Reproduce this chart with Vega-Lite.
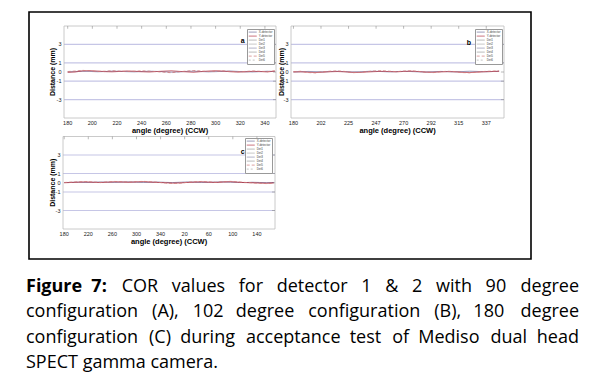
{
  "$schema": "https://vega.github.io/schema/vega-lite/v6.json",
  "padding": {"left": 26, "top": 11, "right": 0, "bottom": 0},
  "background": "white",
  "bounds": "flush",
  "spacing": 9,
  "config": {"view": {"stroke": null}},
  "datasets": {
    "lines": [
      {"p":"a","ang":180,"X-detector":0.02,"Y-detector":-0.04,"Det5":0.05},
      {"p":"a","ang":186,"X-detector":0.05,"Y-detector":0.00,"Det5":0.10},
      {"p":"a","ang":192,"X-detector":0.08,"Y-detector":0.12,"Det5":0.18},
      {"p":"a","ang":198,"X-detector":0.06,"Y-detector":0.15,"Det5":0.12},
      {"p":"a","ang":204,"X-detector":0.03,"Y-detector":0.10,"Det5":0.06},
      {"p":"a","ang":210,"X-detector":0.05,"Y-detector":0.04,"Det5":0.09},
      {"p":"a","ang":216,"X-detector":0.09,"Y-detector":0.02,"Det5":0.14},
      {"p":"a","ang":222,"X-detector":0.07,"Y-detector":0.06,"Det5":0.10},
      {"p":"a","ang":228,"X-detector":0.04,"Y-detector":0.11,"Det5":0.05},
      {"p":"a","ang":234,"X-detector":0.02,"Y-detector":0.08,"Det5":0.08},
      {"p":"a","ang":240,"X-detector":0.05,"Y-detector":0.03,"Det5":0.13},
      {"p":"a","ang":246,"X-detector":0.08,"Y-detector":0.00,"Det5":0.09},
      {"p":"a","ang":252,"X-detector":0.06,"Y-detector":0.05,"Det5":0.04},
      {"p":"a","ang":258,"X-detector":0.03,"Y-detector":0.09,"Det5":-0.02},
      {"p":"a","ang":264,"X-detector":-0.02,"Y-detector":0.13,"Det5":-0.08},
      {"p":"a","ang":270,"X-detector":0.01,"Y-detector":0.07,"Det5":0.02},
      {"p":"a","ang":276,"X-detector":0.06,"Y-detector":0.02,"Det5":0.10},
      {"p":"a","ang":282,"X-detector":0.09,"Y-detector":-0.03,"Det5":0.16},
      {"p":"a","ang":288,"X-detector":0.05,"Y-detector":0.04,"Det5":0.11},
      {"p":"a","ang":294,"X-detector":0.02,"Y-detector":0.10,"Det5":0.05},
      {"p":"a","ang":300,"X-detector":0.04,"Y-detector":0.14,"Det5":0.08},
      {"p":"a","ang":306,"X-detector":0.07,"Y-detector":0.09,"Det5":0.12},
      {"p":"a","ang":312,"X-detector":0.10,"Y-detector":0.03,"Det5":0.07},
      {"p":"a","ang":318,"X-detector":0.06,"Y-detector":-0.01,"Det5":0.03},
      {"p":"a","ang":324,"X-detector":0.03,"Y-detector":0.02,"Det5":0.06},
      {"p":"a","ang":330,"X-detector":0.01,"Y-detector":0.07,"Det5":0.11},
      {"p":"a","ang":336,"X-detector":0.04,"Y-detector":0.05,"Det5":0.08},
      {"p":"a","ang":342,"X-detector":0.08,"Y-detector":0.01,"Det5":0.04},
      {"p":"a","ang":348,"X-detector":0.05,"Y-detector":0.10,"Det5":0.12},
      {"p":"b","ang":180,"X-detector":0.01,"Y-detector":0.00,"Det5":0.04},
      {"p":"b","ang":186,"X-detector":0.03,"Y-detector":0.02,"Det5":0.08},
      {"p":"b","ang":192,"X-detector":0.06,"Y-detector":-0.03,"Det5":-0.06},
      {"p":"b","ang":198,"X-detector":0.04,"Y-detector":-0.06,"Det5":-0.10},
      {"p":"b","ang":204,"X-detector":0.02,"Y-detector":-0.02,"Det5":0.02},
      {"p":"b","ang":210,"X-detector":0.05,"Y-detector":0.03,"Det5":0.09},
      {"p":"b","ang":216,"X-detector":0.07,"Y-detector":0.05,"Det5":0.12},
      {"p":"b","ang":222,"X-detector":0.04,"Y-detector":0.02,"Det5":0.06},
      {"p":"b","ang":228,"X-detector":0.01,"Y-detector":-0.04,"Det5":-0.08},
      {"p":"b","ang":234,"X-detector":0.03,"Y-detector":-0.05,"Det5":-0.04},
      {"p":"b","ang":240,"X-detector":0.06,"Y-detector":0.00,"Det5":0.05},
      {"p":"b","ang":246,"X-detector":0.08,"Y-detector":0.04,"Det5":0.11},
      {"p":"b","ang":252,"X-detector":0.05,"Y-detector":0.07,"Det5":0.14},
      {"p":"b","ang":258,"X-detector":0.02,"Y-detector":0.05,"Det5":0.09},
      {"p":"b","ang":264,"X-detector":0.04,"Y-detector":0.02,"Det5":0.04},
      {"p":"b","ang":270,"X-detector":0.07,"Y-detector":0.06,"Det5":0.10},
      {"p":"b","ang":276,"X-detector":0.05,"Y-detector":0.09,"Det5":0.13},
      {"p":"b","ang":282,"X-detector":0.02,"Y-detector":0.05,"Det5":0.07},
      {"p":"b","ang":288,"X-detector":0.00,"Y-detector":-0.01,"Det5":-0.02},
      {"p":"b","ang":294,"X-detector":0.03,"Y-detector":-0.03,"Det5":-0.07},
      {"p":"b","ang":300,"X-detector":0.06,"Y-detector":0.01,"Det5":0.03},
      {"p":"b","ang":306,"X-detector":0.04,"Y-detector":0.04,"Det5":0.08},
      {"p":"b","ang":312,"X-detector":0.02,"Y-detector":0.02,"Det5":0.05},
      {"p":"b","ang":318,"X-detector":0.05,"Y-detector":-0.04,"Det5":-0.06},
      {"p":"b","ang":324,"X-detector":0.08,"Y-detector":-0.06,"Det5":-0.09},
      {"p":"b","ang":330,"X-detector":0.06,"Y-detector":-0.02,"Det5":0.00},
      {"p":"b","ang":336,"X-detector":0.03,"Y-detector":0.03,"Det5":0.06},
      {"p":"b","ang":342,"X-detector":0.05,"Y-detector":0.05,"Det5":0.10},
      {"p":"b","ang":348,"X-detector":0.07,"Y-detector":0.08,"Det5":0.12},
      {"p":"c","ang":180,"X-detector":0.02,"Y-detector":0.00,"Det5":0.03},
      {"p":"c","ang":192,"X-detector":0.04,"Y-detector":0.03,"Det5":0.07},
      {"p":"c","ang":204,"X-detector":0.06,"Y-detector":0.06,"Det5":0.10},
      {"p":"c","ang":216,"X-detector":0.03,"Y-detector":0.09,"Det5":0.13},
      {"p":"c","ang":228,"X-detector":0.05,"Y-detector":0.05,"Det5":0.08},
      {"p":"c","ang":240,"X-detector":0.08,"Y-detector":0.02,"Det5":0.04},
      {"p":"c","ang":252,"X-detector":0.06,"Y-detector":0.06,"Det5":0.09},
      {"p":"c","ang":264,"X-detector":0.04,"Y-detector":0.10,"Det5":0.14},
      {"p":"c","ang":276,"X-detector":0.07,"Y-detector":0.08,"Det5":0.11},
      {"p":"c","ang":288,"X-detector":0.09,"Y-detector":0.05,"Det5":0.07},
      {"p":"c","ang":300,"X-detector":0.06,"Y-detector":0.09,"Det5":0.12},
      {"p":"c","ang":312,"X-detector":0.03,"Y-detector":0.12,"Det5":0.15},
      {"p":"c","ang":324,"X-detector":0.05,"Y-detector":0.07,"Det5":0.10},
      {"p":"c","ang":336,"X-detector":0.07,"Y-detector":0.03,"Det5":0.05},
      {"p":"c","ang":348,"X-detector":0.04,"Y-detector":0.00,"Det5":-0.03},
      {"p":"c","ang":360,"X-detector":0.02,"Y-detector":-0.04,"Det5":-0.08},
      {"p":"c","ang":372,"X-detector":0.05,"Y-detector":-0.02,"Det5":-0.05},
      {"p":"c","ang":384,"X-detector":0.08,"Y-detector":0.03,"Det5":0.05},
      {"p":"c","ang":396,"X-detector":0.06,"Y-detector":0.07,"Det5":0.10},
      {"p":"c","ang":408,"X-detector":0.03,"Y-detector":0.10,"Det5":0.14},
      {"p":"c","ang":420,"X-detector":0.05,"Y-detector":0.06,"Det5":0.09},
      {"p":"c","ang":432,"X-detector":0.07,"Y-detector":0.03,"Det5":0.05},
      {"p":"c","ang":444,"X-detector":0.09,"Y-detector":0.08,"Det5":0.11},
      {"p":"c","ang":456,"X-detector":0.06,"Y-detector":0.11,"Det5":0.15},
      {"p":"c","ang":468,"X-detector":0.04,"Y-detector":0.06,"Det5":0.09},
      {"p":"c","ang":480,"X-detector":0.02,"Y-detector":0.02,"Det5":0.04},
      {"p":"c","ang":492,"X-detector":0.05,"Y-detector":0.00,"Det5":-0.01},
      {"p":"c","ang":504,"X-detector":0.03,"Y-detector":-0.03,"Det5":-0.06},
      {"p":"c","ang":516,"X-detector":0.01,"Y-detector":-0.05,"Det5":-0.09},
      {"p":"c","ang":528,"X-detector":0.03,"Y-detector":-0.02,"Det5":-0.05}
    ],
    "grid": [{"g": -3}, {"g": -1}, {"g": 1}, {"g": 3}],
    "yticks": [{"t": -3, "lab": "-3"}, {"t": -1, "lab": "-1"}, {"t": 0, "lab": "0"}, {"t": 1, "lab": "1"}, {"t": 3, "lab": "3"}],
    "xt_a": [{"t": 180, "lab": "180"}, {"t": 200, "lab": "200"}, {"t": 220, "lab": "220"}, {"t": 240, "lab": "240"}, {"t": 260, "lab": "260"}, {"t": 280, "lab": "280"}, {"t": 300, "lab": "300"}, {"t": 320, "lab": "320"}, {"t": 340, "lab": "340"}],
    "xt_b": [{"t": 180, "lab": "180"}, {"t": 202.5, "lab": "202"}, {"t": 225, "lab": "225"}, {"t": 247.5, "lab": "247"}, {"t": 270, "lab": "270"}, {"t": 292.5, "lab": "292"}, {"t": 315, "lab": "315"}, {"t": 337.5, "lab": "337"}],
    "xt_c": [{"t": 180, "lab": "180"}, {"t": 220, "lab": "220"}, {"t": 260, "lab": "260"}, {"t": 300, "lab": "300"}, {"t": 340, "lab": "340"}, {"t": 380, "lab": "20"}, {"t": 420, "lab": "60"}, {"t": 460, "lab": "100"}, {"t": 500, "lab": "140"}],
    "caption": [
      {"line": 1, "seg": "B", "text": "Figure \u20057:"},
      {"line": 1, "seg": "L2", "text": "COR \u2002values \u2002for \u2002detector \u20021 \u2002& \u20022 \u2002with \u200290"},
      {"line": 1, "seg": "R", "text": "degree"},
      {"line": 2, "seg": "L", "text": "configuration \u2005\u2006\u200a(A), \u2005\u2006\u200a102 \u2005\u2006degree \u2005\u2006\u200aconfiguration \u2005\u2006\u200a(B), \u2005\u2006180"},
      {"line": 2, "seg": "R", "text": "degree"},
      {"line": 3, "seg": "L", "text": "configuration \u2005\u200a(C) \u2005during \u2005\u200aacceptance \u2005test \u2005\u200aof \u2005Mediso \u2005\u200adual"},
      {"line": 3, "seg": "R", "text": "head"},
      {"line": 4, "seg": "L", "text": "SPECT gamma camera."}
    ]
  },
  "vconcat": [
    {
      "width": 502,
      "height": 247,
      "view": {"stroke": "#000000", "strokeWidth": 1.6},
      "resolve": {
        "scale": {"x": "independent", "y": "independent", "color": "independent", "strokeDash": "independent"},
        "legend": {"color": "independent", "strokeDash": "independent"}
      },
      "layer": [
        {
          "layer": [
            {
              "data": {"name": "grid"},
              "mark": {"type": "rule", "color": "#c6c6e6", "strokeWidth": 1.2},
              "encoding": {
                "x": {"datum": 177, "type": "quantitative", "scale": {"domain": [177, 349], "range": [35, 247], "nice": false, "zero": false}, "axis": null},
                "x2": {"datum": 349},
                "y": {"field": "g", "type": "quantitative", "scale": {"domain": [-5, 5], "range": [106, 14], "nice": false, "zero": false}, "axis": null}
              }
            },
            {
              "data": {"values": [{"f": 1}]},
              "mark": {"type": "rect", "fill": null, "stroke": "#bdbdbd", "strokeWidth": 0.8},
              "encoding": {
                "x": {"datum": 177, "type": "quantitative", "scale": {"domain": [177, 349], "range": [35, 247], "nice": false, "zero": false}, "axis": null},
                "x2": {"datum": 349},
                "y": {"datum": -5, "type": "quantitative", "scale": {"domain": [-5, 5], "range": [106, 14], "nice": false, "zero": false}, "axis": null},
                "y2": {"datum": 5}
              }
            },
            {
              "data": {"name": "xt_a"},
              "mark": {"type": "rule", "color": "#8c8c8c", "strokeWidth": 0.6},
              "encoding": {
                "x": {"field": "t", "type": "quantitative", "scale": {"domain": [177, 349], "range": [35, 247], "nice": false, "zero": false}, "axis": null},
                "y": {"datum": 5, "type": "quantitative", "scale": {"domain": [-5, 5], "range": [106, 14], "nice": false, "zero": false}, "axis": null},
                "y2": {"datum": 4.7}
              }
            },
            {
              "data": {"name": "yticks"},
              "mark": {"type": "rule", "color": "#8c8c8c", "strokeWidth": 0.6},
              "encoding": {
                "x": {"datum": 349, "type": "quantitative", "scale": {"domain": [177, 349], "range": [35, 247], "nice": false, "zero": false}, "axis": null},
                "x2": {"datum": 346.6},
                "y": {"field": "t", "type": "quantitative", "scale": {"domain": [-5, 5], "range": [106, 14], "nice": false, "zero": false}, "axis": null}
              }
            },
            {
              "data": {"name": "lines"},
              "transform": [{"filter": "datum.p === 'a'"}, {"fold": ["X-detector", "Y-detector", "Det5"], "as": ["s", "d"]}],
              "mark": {"type": "line", "strokeWidth": 0.8},
              "encoding": {
                "x": {"field": "ang", "type": "quantitative", "scale": {"domain": [177, 349], "range": [35, 247], "nice": false, "zero": false}, "axis": null},
                "y": {"field": "d", "type": "quantitative", "scale": {"domain": [-5, 5], "range": [106, 14], "nice": false, "zero": false}, "axis": null},
                "color": {"field": "s", "type": "nominal",
                  "scale": {"domain": ["X-detector", "Y-detector", "Det1", "Det2", "Det3", "Det4", "Det5", "Det6"], "range": ["#6a6a9a", "#b02a3a", "#999999", "#aaaaaa", "#8a8aaa", "#999999", "#d07878", "#aaaaaa"]},
                  "legend": {"orient": "none", "legendX": 218, "legendY": 17, "title": null, "symbolType": "stroke", "symbolSize": 64, "symbolStrokeWidth": 0.7, "clipHeight": 3.8, "rowPadding": 0, "padding": 1.2, "labelFont": "Liberation Sans", "labelFontSize": 3, "labelColor": "#444444", "labelOffset": 1.5, "strokeColor": "#999999", "fillColor": "#ffffff"}},
                "strokeDash": {"field": "s", "type": "nominal",
                  "scale": {"domain": ["X-detector", "Y-detector", "Det1", "Det2", "Det3", "Det4", "Det5", "Det6"], "range": [[1, 0], [1, 0], [1, 0], [1, 0], [1, 0], [1, 0], [3, 2], [2, 2]]},
                  "legend": {"orient": "none", "legendX": 218, "legendY": 17, "title": null, "symbolType": "stroke", "symbolSize": 64, "symbolStrokeWidth": 0.7, "clipHeight": 3.8, "rowPadding": 0, "padding": 1.2, "labelFont": "Liberation Sans", "labelFontSize": 3, "labelColor": "#444444", "labelOffset": 1.5, "strokeColor": "#999999", "fillColor": "#ffffff"}}
              }
            },
            {
              "data": {"values": [{"lab": "a"}]},
              "mark": {"type": "text", "font": "Liberation Sans", "fontSize": 7, "fontWeight": "bold", "color": "#000000", "align": "center", "baseline": "middle"},
              "encoding": {
                "x": {"datum": 322, "type": "quantitative", "scale": {"domain": [177, 349], "range": [35, 247], "nice": false, "zero": false}, "axis": null},
                "y": {"datum": 3.34, "type": "quantitative", "scale": {"domain": [-5, 5], "range": [106, 14], "nice": false, "zero": false}, "axis": null},
                "text": {"field": "lab"}
              }
            },
            {
              "data": {"name": "xt_a"},
              "mark": {"type": "text", "font": "Liberation Sans", "fontSize": 5.5, "color": "#222222", "align": "center", "baseline": "top", "dy": 2.5},
              "encoding": {
                "x": {"field": "t", "type": "quantitative", "scale": {"domain": [177, 349], "range": [35, 247], "nice": false, "zero": false}, "axis": null},
                "y": {"datum": -5, "type": "quantitative", "scale": {"domain": [-5, 5], "range": [106, 14], "nice": false, "zero": false}, "axis": null},
                "text": {"field": "lab"}
              }
            },
            {
              "data": {"values": [{"lab": "angle (degree) (CCW)"}]},
              "mark": {"type": "text", "font": "Liberation Sans", "fontSize": 7.5, "fontWeight": "bold", "color": "#000000", "align": "center", "baseline": "top", "dy": 9},
              "encoding": {
                "x": {"datum": 263, "type": "quantitative", "scale": {"domain": [177, 349], "range": [35, 247], "nice": false, "zero": false}, "axis": null},
                "y": {"datum": -5, "type": "quantitative", "scale": {"domain": [-5, 5], "range": [106, 14], "nice": false, "zero": false}, "axis": null},
                "text": {"field": "lab"}
              }
            },
            {
              "data": {"name": "yticks"},
              "mark": {"type": "text", "font": "Liberation Sans", "fontSize": 5.5, "color": "#222222", "align": "right", "baseline": "middle", "dx": -2.5},
              "encoding": {
                "x": {"datum": 177, "type": "quantitative", "scale": {"domain": [177, 349], "range": [35, 247], "nice": false, "zero": false}, "axis": null},
                "y": {"field": "t", "type": "quantitative", "scale": {"domain": [-5, 5], "range": [106, 14], "nice": false, "zero": false}, "axis": null},
                "text": {"field": "lab"}
              }
            },
            {
              "data": {"values": [{"lab": "Distance (mm)"}]},
              "mark": {"type": "text", "font": "Liberation Sans", "fontSize": 7, "fontWeight": "bold", "color": "#000000", "align": "center", "baseline": "middle", "angle": 270, "dy": -11},
              "encoding": {
                "x": {"datum": 177, "type": "quantitative", "scale": {"domain": [177, 349], "range": [35, 247], "nice": false, "zero": false}, "axis": null},
                "y": {"datum": 0, "type": "quantitative", "scale": {"domain": [-5, 5], "range": [106, 14], "nice": false, "zero": false}, "axis": null},
                "text": {"field": "lab"}
              }
            }
          ]
        },
        {
          "layer": [
            {
              "data": {"name": "grid"},
              "mark": {"type": "rule", "color": "#c6c6e6", "strokeWidth": 1.2},
              "encoding": {
                "x": {"datum": 178, "type": "quantitative", "scale": {"domain": [178, 352], "range": [262, 475], "nice": false, "zero": false}, "axis": null},
                "x2": {"datum": 352},
                "y": {"field": "g", "type": "quantitative", "scale": {"domain": [-5, 5], "range": [106, 14], "nice": false, "zero": false}, "axis": null}
              }
            },
            {
              "data": {"values": [{"f": 1}]},
              "mark": {"type": "rect", "fill": null, "stroke": "#bdbdbd", "strokeWidth": 0.8},
              "encoding": {
                "x": {"datum": 178, "type": "quantitative", "scale": {"domain": [178, 352], "range": [262, 475], "nice": false, "zero": false}, "axis": null},
                "x2": {"datum": 352},
                "y": {"datum": -5, "type": "quantitative", "scale": {"domain": [-5, 5], "range": [106, 14], "nice": false, "zero": false}, "axis": null},
                "y2": {"datum": 5}
              }
            },
            {
              "data": {"name": "xt_b"},
              "mark": {"type": "rule", "color": "#8c8c8c", "strokeWidth": 0.6},
              "encoding": {
                "x": {"field": "t", "type": "quantitative", "scale": {"domain": [178, 352], "range": [262, 475], "nice": false, "zero": false}, "axis": null},
                "y": {"datum": 5, "type": "quantitative", "scale": {"domain": [-5, 5], "range": [106, 14], "nice": false, "zero": false}, "axis": null},
                "y2": {"datum": 4.7}
              }
            },
            {
              "data": {"name": "yticks"},
              "mark": {"type": "rule", "color": "#8c8c8c", "strokeWidth": 0.6},
              "encoding": {
                "x": {"datum": 352, "type": "quantitative", "scale": {"domain": [178, 352], "range": [262, 475], "nice": false, "zero": false}, "axis": null},
                "x2": {"datum": 349.5},
                "y": {"field": "t", "type": "quantitative", "scale": {"domain": [-5, 5], "range": [106, 14], "nice": false, "zero": false}, "axis": null}
              }
            },
            {
              "data": {"name": "lines"},
              "transform": [{"filter": "datum.p === 'b'"}, {"fold": ["X-detector", "Y-detector", "Det5"], "as": ["s", "d"]}],
              "mark": {"type": "line", "strokeWidth": 0.8},
              "encoding": {
                "x": {"field": "ang", "type": "quantitative", "scale": {"domain": [178, 352], "range": [262, 475], "nice": false, "zero": false}, "axis": null},
                "y": {"field": "d", "type": "quantitative", "scale": {"domain": [-5, 5], "range": [106, 14], "nice": false, "zero": false}, "axis": null},
                "color": {"field": "s", "type": "nominal",
                  "scale": {"domain": ["X-detector", "Y-detector", "Det1", "Det2", "Det3", "Det4", "Det5", "Det6"], "range": ["#6a6a9a", "#b02a3a", "#999999", "#aaaaaa", "#8a8aaa", "#999999", "#d07878", "#aaaaaa"]},
                  "legend": {"orient": "none", "legendX": 446, "legendY": 17, "title": null, "symbolType": "stroke", "symbolSize": 64, "symbolStrokeWidth": 0.7, "clipHeight": 3.8, "rowPadding": 0, "padding": 1.2, "labelFont": "Liberation Sans", "labelFontSize": 3, "labelColor": "#444444", "labelOffset": 1.5, "strokeColor": "#999999", "fillColor": "#ffffff"}},
                "strokeDash": {"field": "s", "type": "nominal",
                  "scale": {"domain": ["X-detector", "Y-detector", "Det1", "Det2", "Det3", "Det4", "Det5", "Det6"], "range": [[1, 0], [1, 0], [1, 0], [1, 0], [1, 0], [1, 0], [3, 2], [2, 2]]},
                  "legend": {"orient": "none", "legendX": 446, "legendY": 17, "title": null, "symbolType": "stroke", "symbolSize": 64, "symbolStrokeWidth": 0.7, "clipHeight": 3.8, "rowPadding": 0, "padding": 1.2, "labelFont": "Liberation Sans", "labelFontSize": 3, "labelColor": "#444444", "labelOffset": 1.5, "strokeColor": "#999999", "fillColor": "#ffffff"}}
              }
            },
            {
              "data": {"values": [{"lab": "b"}]},
              "mark": {"type": "text", "font": "Liberation Sans", "fontSize": 7, "fontWeight": "bold", "color": "#000000", "align": "center", "baseline": "middle"},
              "encoding": {
                "x": {"datum": 323.4, "type": "quantitative", "scale": {"domain": [178, 352], "range": [262, 475], "nice": false, "zero": false}, "axis": null},
                "y": {"datum": 3.15, "type": "quantitative", "scale": {"domain": [-5, 5], "range": [106, 14], "nice": false, "zero": false}, "axis": null},
                "text": {"field": "lab"}
              }
            },
            {
              "data": {"name": "xt_b"},
              "mark": {"type": "text", "font": "Liberation Sans", "fontSize": 5.5, "color": "#222222", "align": "center", "baseline": "top", "dy": 2.5},
              "encoding": {
                "x": {"field": "t", "type": "quantitative", "scale": {"domain": [178, 352], "range": [262, 475], "nice": false, "zero": false}, "axis": null},
                "y": {"datum": -5, "type": "quantitative", "scale": {"domain": [-5, 5], "range": [106, 14], "nice": false, "zero": false}, "axis": null},
                "text": {"field": "lab"}
              }
            },
            {
              "data": {"values": [{"lab": "angle (degree) (CCW)"}]},
              "mark": {"type": "text", "font": "Liberation Sans", "fontSize": 7.5, "fontWeight": "bold", "color": "#000000", "align": "center", "baseline": "top", "dy": 9},
              "encoding": {
                "x": {"datum": 265, "type": "quantitative", "scale": {"domain": [178, 352], "range": [262, 475], "nice": false, "zero": false}, "axis": null},
                "y": {"datum": -5, "type": "quantitative", "scale": {"domain": [-5, 5], "range": [106, 14], "nice": false, "zero": false}, "axis": null},
                "text": {"field": "lab"}
              }
            },
            {
              "data": {"name": "yticks"},
              "mark": {"type": "text", "font": "Liberation Sans", "fontSize": 5.5, "color": "#222222", "align": "right", "baseline": "middle", "dx": -2.5},
              "encoding": {
                "x": {"datum": 178, "type": "quantitative", "scale": {"domain": [178, 352], "range": [262, 475], "nice": false, "zero": false}, "axis": null},
                "y": {"field": "t", "type": "quantitative", "scale": {"domain": [-5, 5], "range": [106, 14], "nice": false, "zero": false}, "axis": null},
                "text": {"field": "lab"}
              }
            },
            {
              "data": {"values": [{"lab": "Distance (mm)"}]},
              "mark": {"type": "text", "font": "Liberation Sans", "fontSize": 7, "fontWeight": "bold", "color": "#000000", "align": "center", "baseline": "middle", "angle": 270, "dy": -9.5},
              "encoding": {
                "x": {"datum": 178, "type": "quantitative", "scale": {"domain": [178, 352], "range": [262, 475], "nice": false, "zero": false}, "axis": null},
                "y": {"datum": 0, "type": "quantitative", "scale": {"domain": [-5, 5], "range": [106, 14], "nice": false, "zero": false}, "axis": null},
                "text": {"field": "lab"}
              }
            }
          ]
        },
        {
          "layer": [
            {
              "data": {"name": "grid"},
              "mark": {"type": "rule", "color": "#c6c6e6", "strokeWidth": 1.2},
              "encoding": {
                "x": {"datum": 178, "type": "quantitative", "scale": {"domain": [178, 530], "range": [34, 246], "nice": false, "zero": false}, "axis": null},
                "x2": {"datum": 530},
                "y": {"field": "g", "type": "quantitative", "scale": {"domain": [-5, 5], "range": [217, 124.5], "nice": false, "zero": false}, "axis": null}
              }
            },
            {
              "data": {"values": [{"f": 1}]},
              "mark": {"type": "rect", "fill": null, "stroke": "#bdbdbd", "strokeWidth": 0.8},
              "encoding": {
                "x": {"datum": 178, "type": "quantitative", "scale": {"domain": [178, 530], "range": [34, 246], "nice": false, "zero": false}, "axis": null},
                "x2": {"datum": 530},
                "y": {"datum": -5, "type": "quantitative", "scale": {"domain": [-5, 5], "range": [217, 124.5], "nice": false, "zero": false}, "axis": null},
                "y2": {"datum": 5}
              }
            },
            {
              "data": {"name": "xt_c"},
              "mark": {"type": "rule", "color": "#8c8c8c", "strokeWidth": 0.6},
              "encoding": {
                "x": {"field": "t", "type": "quantitative", "scale": {"domain": [178, 530], "range": [34, 246], "nice": false, "zero": false}, "axis": null},
                "y": {"datum": 5, "type": "quantitative", "scale": {"domain": [-5, 5], "range": [217, 124.5], "nice": false, "zero": false}, "axis": null},
                "y2": {"datum": 4.7}
              }
            },
            {
              "data": {"name": "yticks"},
              "mark": {"type": "rule", "color": "#8c8c8c", "strokeWidth": 0.6},
              "encoding": {
                "x": {"datum": 530, "type": "quantitative", "scale": {"domain": [178, 530], "range": [34, 246], "nice": false, "zero": false}, "axis": null},
                "x2": {"datum": 525},
                "y": {"field": "t", "type": "quantitative", "scale": {"domain": [-5, 5], "range": [217, 124.5], "nice": false, "zero": false}, "axis": null}
              }
            },
            {
              "data": {"name": "lines"},
              "transform": [{"filter": "datum.p === 'c'"}, {"fold": ["X-detector", "Y-detector", "Det5"], "as": ["s", "d"]}],
              "mark": {"type": "line", "strokeWidth": 0.8},
              "encoding": {
                "x": {"field": "ang", "type": "quantitative", "scale": {"domain": [178, 530], "range": [34, 246], "nice": false, "zero": false}, "axis": null},
                "y": {"field": "d", "type": "quantitative", "scale": {"domain": [-5, 5], "range": [217, 124.5], "nice": false, "zero": false}, "axis": null},
                "color": {"field": "s", "type": "nominal",
                  "scale": {"domain": ["X-detector", "Y-detector", "Det1", "Det2", "Det3", "Det4", "Det5", "Det6"], "range": ["#6a6a9a", "#b02a3a", "#999999", "#aaaaaa", "#8a8aaa", "#999999", "#d07878", "#aaaaaa"]},
                  "legend": {"orient": "none", "legendX": 216, "legendY": 126, "title": null, "symbolType": "stroke", "symbolSize": 64, "symbolStrokeWidth": 0.7, "clipHeight": 3.8, "rowPadding": 0, "padding": 1.2, "labelFont": "Liberation Sans", "labelFontSize": 3, "labelColor": "#444444", "labelOffset": 1.5, "strokeColor": "#999999", "fillColor": "#ffffff"}},
                "strokeDash": {"field": "s", "type": "nominal",
                  "scale": {"domain": ["X-detector", "Y-detector", "Det1", "Det2", "Det3", "Det4", "Det5", "Det6"], "range": [[1, 0], [1, 0], [1, 0], [1, 0], [1, 0], [1, 0], [3, 2], [2, 2]]},
                  "legend": {"orient": "none", "legendX": 216, "legendY": 126, "title": null, "symbolType": "stroke", "symbolSize": 64, "symbolStrokeWidth": 0.7, "clipHeight": 3.8, "rowPadding": 0, "padding": 1.2, "labelFont": "Liberation Sans", "labelFontSize": 3, "labelColor": "#444444", "labelOffset": 1.5, "strokeColor": "#999999", "fillColor": "#ffffff"}}
              }
            },
            {
              "data": {"values": [{"lab": "c"}]},
              "mark": {"type": "text", "font": "Liberation Sans", "fontSize": 7, "fontWeight": "bold", "color": "#000000", "align": "center", "baseline": "middle"},
              "encoding": {
                "x": {"datum": 476.4, "type": "quantitative", "scale": {"domain": [178, 530], "range": [34, 246], "nice": false, "zero": false}, "axis": null},
                "y": {"datum": 3.36, "type": "quantitative", "scale": {"domain": [-5, 5], "range": [217, 124.5], "nice": false, "zero": false}, "axis": null},
                "text": {"field": "lab"}
              }
            },
            {
              "data": {"name": "xt_c"},
              "mark": {"type": "text", "font": "Liberation Sans", "fontSize": 5.5, "color": "#222222", "align": "center", "baseline": "top", "dy": 2.5},
              "encoding": {
                "x": {"field": "t", "type": "quantitative", "scale": {"domain": [178, 530], "range": [34, 246], "nice": false, "zero": false}, "axis": null},
                "y": {"datum": -5, "type": "quantitative", "scale": {"domain": [-5, 5], "range": [217, 124.5], "nice": false, "zero": false}, "axis": null},
                "text": {"field": "lab"}
              }
            },
            {
              "data": {"values": [{"lab": "angle (degree) (CCW)"}]},
              "mark": {"type": "text", "font": "Liberation Sans", "fontSize": 7.5, "fontWeight": "bold", "color": "#000000", "align": "center", "baseline": "top", "dy": 9},
              "encoding": {
                "x": {"datum": 354, "type": "quantitative", "scale": {"domain": [178, 530], "range": [34, 246], "nice": false, "zero": false}, "axis": null},
                "y": {"datum": -5, "type": "quantitative", "scale": {"domain": [-5, 5], "range": [217, 124.5], "nice": false, "zero": false}, "axis": null},
                "text": {"field": "lab"}
              }
            },
            {
              "data": {"name": "yticks"},
              "mark": {"type": "text", "font": "Liberation Sans", "fontSize": 5.5, "color": "#222222", "align": "right", "baseline": "middle", "dx": -2.5},
              "encoding": {
                "x": {"datum": 178, "type": "quantitative", "scale": {"domain": [178, 530], "range": [34, 246], "nice": false, "zero": false}, "axis": null},
                "y": {"field": "t", "type": "quantitative", "scale": {"domain": [-5, 5], "range": [217, 124.5], "nice": false, "zero": false}, "axis": null},
                "text": {"field": "lab"}
              }
            },
            {
              "data": {"values": [{"lab": "Distance (mm)"}]},
              "mark": {"type": "text", "font": "Liberation Sans", "fontSize": 7, "fontWeight": "bold", "color": "#000000", "align": "center", "baseline": "middle", "angle": 270, "dy": -10.5},
              "encoding": {
                "x": {"datum": 178, "type": "quantitative", "scale": {"domain": [178, 530], "range": [34, 246], "nice": false, "zero": false}, "axis": null},
                "y": {"datum": 0, "type": "quantitative", "scale": {"domain": [-5, 5], "range": [217, 124.5], "nice": false, "zero": false}, "axis": null},
                "text": {"field": "lab"}
              }
            }
          ]
        }
      ]
    },
    {
      "width": 502,
      "height": 110,
      "view": {"stroke": null},
      "data": {"name": "caption"},
      "layer": [
        {
          "transform": [{"filter": "datum.seg === 'B'"}],
          "mark": {"type": "text", "font": "Open Sans", "fontSize": 18, "fontWeight": "bold", "color": "#000000", "align": "left", "baseline": "alphabetic"},
          "encoding": {
            "x": {"datum": 0, "type": "quantitative", "scale": {"domain": [0, 1], "range": [-3, 550], "nice": false, "zero": false}, "axis": null},
            "y": {"field": "line", "type": "quantitative", "scale": {"domain": [1, 4], "range": [24, 100], "nice": false, "zero": false}, "axis": null},
            "text": {"field": "text"}
          }
        },
        {
          "transform": [{"filter": "datum.seg === 'L'"}],
          "mark": {"type": "text", "font": "Open Sans", "fontSize": 18, "color": "#000000", "align": "left", "baseline": "alphabetic"},
          "encoding": {
            "x": {"datum": 0, "type": "quantitative", "scale": {"domain": [0, 1], "range": [-3, 550], "nice": false, "zero": false}, "axis": null},
            "y": {"field": "line", "type": "quantitative", "scale": {"domain": [1, 4], "range": [24, 100], "nice": false, "zero": false}, "axis": null},
            "text": {"field": "text"}
          }
        },
        {
          "transform": [{"filter": "datum.seg === 'L2'"}],
          "mark": {"type": "text", "font": "Open Sans", "fontSize": 18, "color": "#000000", "align": "left", "baseline": "alphabetic"},
          "encoding": {
            "x": {"datum": 0.1731, "type": "quantitative", "scale": {"domain": [0, 1], "range": [-3, 550], "nice": false, "zero": false}, "axis": null},
            "y": {"field": "line", "type": "quantitative", "scale": {"domain": [1, 4], "range": [24, 100], "nice": false, "zero": false}, "axis": null},
            "text": {"field": "text"}
          }
        },
        {
          "transform": [{"filter": "datum.seg === 'R'"}],
          "mark": {"type": "text", "font": "Open Sans", "fontSize": 18, "color": "#000000", "align": "right", "baseline": "alphabetic"},
          "encoding": {
            "x": {"datum": 1, "type": "quantitative", "scale": {"domain": [0, 1], "range": [-3, 550], "nice": false, "zero": false}, "axis": null},
            "y": {"field": "line", "type": "quantitative", "scale": {"domain": [1, 4], "range": [24, 100], "nice": false, "zero": false}, "axis": null},
            "text": {"field": "text"}
          }
        }
      ]
    }
  ]
}
